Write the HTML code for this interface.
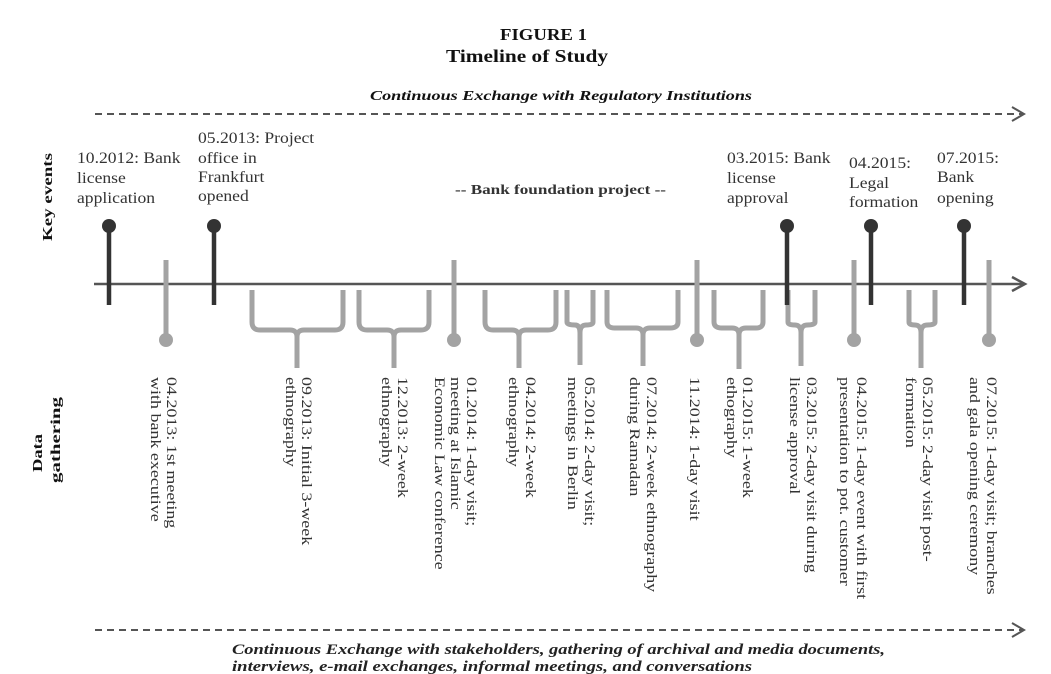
<!DOCTYPE html>
<html><head><meta charset="utf-8"><style>
body{margin:0;background:#fff;}
svg{display:block;font-family:"Liberation Serif",serif;}
</style></head><body>
<svg width="1051" height="674" viewBox="0 0 1051 674" xmlns="http://www.w3.org/2000/svg">
<g fill="#111" font-weight="bold">
<text x="500" y="40" font-size="17" textLength="87" lengthAdjust="spacingAndGlyphs">FIGURE 1</text>
<text x="446" y="62" font-size="18" textLength="162" lengthAdjust="spacingAndGlyphs">Timeline of Study</text>
<text x="370" y="100" font-size="14" font-style="italic" textLength="382" lengthAdjust="spacingAndGlyphs">Continuous Exchange with Regulatory Institutions</text>
<text x="455" y="194" font-size="14" fill="#333" textLength="211" lengthAdjust="spacingAndGlyphs">-- Bank foundation project --</text>
<text transform="translate(52,241) rotate(-90)" font-size="14" textLength="88" lengthAdjust="spacingAndGlyphs">Key events</text>
<text transform="translate(42,472) rotate(-90)" font-size="14" textLength="38" lengthAdjust="spacingAndGlyphs">Data</text>
<text transform="translate(60,483) rotate(-90)" font-size="14" textLength="86" lengthAdjust="spacingAndGlyphs">gathering</text>
</g>
<g fill="#222" font-weight="bold" font-style="italic" font-size="15">
<text x="232" y="654" textLength="653" lengthAdjust="spacingAndGlyphs">Continuous Exchange with stakeholders, gathering of archival and media documents,</text>
<text x="232" y="671" textLength="520" lengthAdjust="spacingAndGlyphs">interviews, e-mail exchanges, informal meetings, and conversations</text>
</g>
<g stroke="#555" stroke-width="2" fill="none">
<line x1="95" y1="114" x2="1022" y2="114" stroke-dasharray="7,5"/>
<polyline points="1012,107 1024,114 1012,121"/>
<line x1="95" y1="630" x2="1022" y2="630" stroke-dasharray="7,5"/>
<polyline points="1012,623 1024,630 1012,637"/>
<line x1="94" y1="284" x2="1024" y2="284" stroke="#555" stroke-width="2.5"/>
<polyline points="1012,277 1025,284 1012,291" stroke-width="2.5"/>
</g>
<g stroke="#a3a3a3" stroke-width="5" fill="none">
<line x1="166" y1="260" x2="166" y2="340"/>
<line x1="454" y1="260" x2="454" y2="340"/>
<line x1="697" y1="260" x2="697" y2="340"/>
<line x1="854" y1="260" x2="854" y2="340"/>
<line x1="989" y1="260" x2="989" y2="340"/>
<path d="M252,290 L252,322 Q252,330 260,330 L290,330 Q297,330 297,337 L297,368 M297,337 Q297,330 304,330 L335,330 Q343,330 343,322 L343,290"/>
<path d="M359,290 L359,322 Q359,330 367,330 L387,330 Q394,330 394,337 L394,368 M394,337 Q394,330 401,330 L421,330 Q429,330 429,322 L429,290"/>
<path d="M485,290 L485,322 Q485,330 493,330 L512,330 Q519,330 519,337 L519,368 M519,337 Q519,330 526,330 L548,330 Q556,330 556,322 L556,290"/>
<path d="M567,290 L567,322 Q567,325 575,325 Q580,325 580,333 L580,365 M580,333 Q580,325 586,325 Q593,325 593,322 L593,290"/>
<path d="M607,290 L607,322 Q607,328 615,328 L636,328 Q643,328 643,335 L643,366 M643,335 Q643,328 650,328 L670,328 Q678,328 678,322 L678,290"/>
<path d="M714,290 L714,322 Q714,328 722,328 L732,328 Q739,328 739,335 L739,369 M739,335 Q739,328 746,328 L756,328 Q763,328 763,322 L763,290"/>
<path d="M788,290 L788,322 Q788,325 795,325 Q801,325 801,333 L801,366 M801,333 Q801,325 807,325 Q815,325 815,322 L815,290"/>
<path d="M909,290 L909,322 Q909,325 915,325 Q921,325 921,333 L921,368 M921,333 Q921,325 927,325 Q935,325 935,322 L935,290"/>
</g>
<g fill="#a3a3a3">
<circle cx="166" cy="340" r="7"/><circle cx="454" cy="340" r="7"/><circle cx="697" cy="340" r="7"/><circle cx="854" cy="340" r="7"/><circle cx="989" cy="340" r="7"/>
</g>
<g stroke="#333" stroke-width="4.5">
<line x1="109" y1="226" x2="109" y2="305"/>
<line x1="214" y1="226" x2="214" y2="305"/>
<line x1="787" y1="226" x2="787" y2="305"/>
<line x1="871" y1="226" x2="871" y2="305"/>
<line x1="964" y1="226" x2="964" y2="305"/>
</g>
<g fill="#333">
<circle cx="109" cy="226" r="7"/><circle cx="214" cy="226" r="7"/><circle cx="787" cy="226" r="7"/><circle cx="871" cy="226" r="7"/><circle cx="964" cy="226" r="7"/>
</g>
<g fill="#333" font-size="16">
<g transform="translate(77,0) scale(1.1,1)"><text x="0" y="163">10.2012: Bank</text><text x="0" y="183">license</text><text x="0" y="203">application</text></g>
<g transform="translate(198,0) scale(1.1,1)"><text x="0" y="143">05.2013: Project</text><text x="0" y="163">office in</text><text x="0" y="182">Frankfurt</text><text x="0" y="201">opened</text></g>
<g transform="translate(727,0) scale(1.1,1)"><text x="0" y="163">03.2015: Bank</text><text x="0" y="183">license</text><text x="0" y="203">approval</text></g>
<g transform="translate(849,0) scale(1.1,1)"><text x="0" y="168">04.2015:</text><text x="0" y="188">Legal</text><text x="0" y="207">formation</text></g>
<g transform="translate(937,0) scale(1.1,1)"><text x="0" y="163">07.2015:</text><text x="0" y="182">Bank</text><text x="0" y="203">opening</text></g>
</g>
<g fill="#333" font-size="15">
<text transform="translate(167,377) rotate(90) scale(1.2,1)"><tspan x="0" y="0">04.2013: 1st meeting</tspan><tspan x="0" y="16">with bank executive</tspan></text>
<text transform="translate(302,377) rotate(90) scale(1.2,1)"><tspan x="0" y="0">09.2013: Initial 3-week</tspan><tspan x="0" y="16">ethnography</tspan></text>
<text transform="translate(398,377) rotate(90) scale(1.2,1)"><tspan x="0" y="0">12.2013: 2-week</tspan><tspan x="0" y="16">ethnography</tspan></text>
<text transform="translate(467,377) rotate(90) scale(1.2,1)"><tspan x="0" y="0">01.2014: 1-day visit;</tspan><tspan x="0" y="16">meeting at Islamic</tspan><tspan x="0" y="32">Economic Law conference</tspan></text>
<text transform="translate(526,377) rotate(90) scale(1.2,1)"><tspan x="0" y="0">04.2014: 2-week</tspan><tspan x="0" y="17">ethnography</tspan></text>
<text transform="translate(585,377) rotate(90) scale(1.2,1)"><tspan x="0" y="0">05.2014: 2-day visit;</tspan><tspan x="0" y="17">meetings in Berlin</tspan></text>
<text transform="translate(647,377) rotate(90) scale(1.2,1)"><tspan x="0" y="0">07.2014: 2-week ethnography</tspan><tspan x="0" y="17">during Ramadan</tspan></text>
<text transform="translate(690,377) rotate(90) scale(1.2,1)">11.2014: 1-day visit</text>
<text transform="translate(743,377) rotate(90) scale(1.2,1)"><tspan x="0" y="0">01.2015: 1-week</tspan><tspan x="0" y="16">ethography</tspan></text>
<text transform="translate(807,377) rotate(90) scale(1.2,1)"><tspan x="0" y="0">03.2015: 2-day visit during</tspan><tspan x="0" y="17">license approval</tspan></text>
<text transform="translate(857,377) rotate(90) scale(1.2,1)"><tspan x="0" y="0">04.2015: 1-day event with first</tspan><tspan x="0" y="17">presentation to pot. customer</tspan></text>
<text transform="translate(923,377) rotate(90) scale(1.2,1)"><tspan x="0" y="0">05.2015: 2-day visit post-</tspan><tspan x="0" y="17">formation</tspan></text>
<text transform="translate(987,377) rotate(90) scale(1.2,1)"><tspan x="0" y="0">07.2015: 1-day visit; branches</tspan><tspan x="0" y="17">and gala opening ceremony</tspan></text>
</g>
</svg>
</body></html>
